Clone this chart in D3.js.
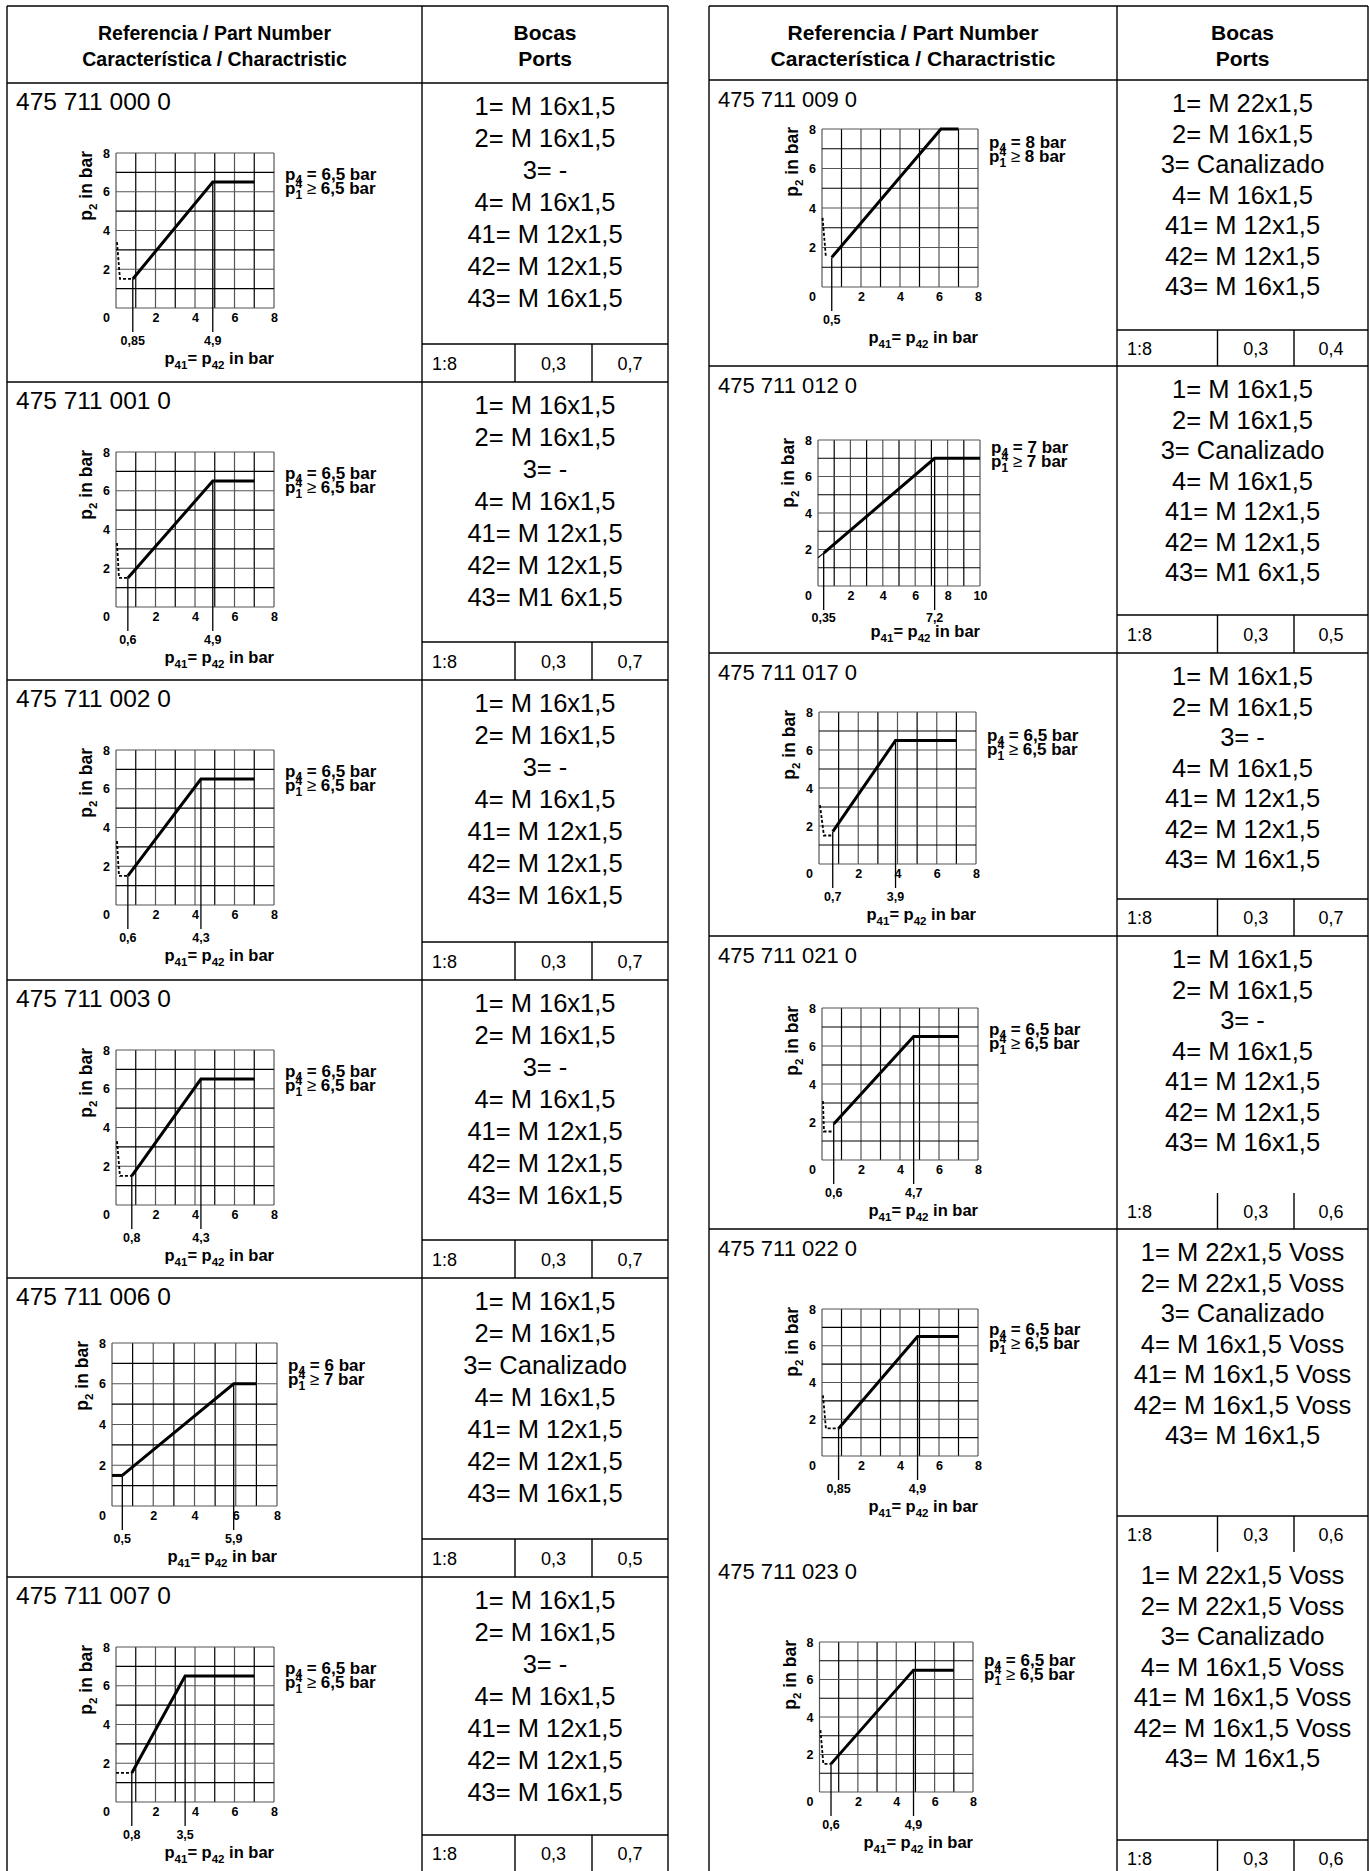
<!DOCTYPE html>
<html>
<head>
<meta charset="utf-8">
<script src="https://cdn.jsdelivr.net/npm/d3@7"></script>
<style>
  body { margin: 0; background: #fff; }
  text { font-family: "Liberation Sans", Arial, sans-serif; }
</style>
</head>
<body>
<script>
// ---- data ----
const parts = ['475 711 000 0', '475 711 001 0', '475 711 002 0', '475 711 003 0', '475 711 006 0', '475 711 007 0',
    '475 711 009 0', '475 711 012 0', '475 711 017 0', '475 711 021 0', '475 711 022 0', '475 711 023 0']

const xMax = [8, 8, 8, 8, 8, 8, 8, 10, 8, 8, 8, 8]
const startPoint = [[0.85, 1.5], [0.6, 1.5], [0.6, 1.5], [0.8, 1.5], [0.5, 1.5], [0.8, 1.5],
    [0.5, 1.5], [0.35, 1.8], [0.7, 1.7], [0.6, 1.9], [0.85, 1.5], [0.6, 1.5]]
const kneePoint = [[4.9, 6.5], [4.9, 6.5], [4.3, 6.5], [4.3, 6.5], [5.9, 6], [3.5, 6.5],
    [6.1, 8], [7.2, 7], [3.9, 6.5], [4.7, 6.5], [4.9, 6.5], [4.9, 6.5]]
const endX = [7, 7, 7, 7, 7, 7, 7, 10, 7, 7, 7, 7]

const dashedLead = [
    [[0.05, 3.4], [0.2, 1.5], [0.85, 1.5]],
    [[0.05, 3.3], [0.15, 1.5], [0.6, 1.5]],
    [[0.05, 3.3], [0.15, 1.5], [0.6, 1.5]],
    [[0.05, 3.3], [0.2, 1.5], [0.8, 1.5]],
    [],
    [[0, 1.5], [0.8, 1.5]],
    [[0.03, 3.5], [0.2, 1.5]],
    [],
    [[0.05, 3.1], [0.25, 1.5], [0.7, 1.5]],
    [[0.05, 3.1], [0.1, 1.5], [0.6, 1.5]],
    [[0.05, 3.3], [0.2, 1.5], [0.85, 1.5]],
    [[0.05, 3.3], [0.2, 1.5], [0.6, 1.5]]
]
const solidLead = [[], [], [], [], [[0, 1.5], [0.5, 1.5]], [], [], [[0, 1.55], [0.35, 1.8]], [], [], [], []]

const markerLabels = [['0,85', '4,9'], ['0,6', '4,9'], ['0,6', '4,3'], ['0,8', '4,3'], ['0,5', '5,9'], ['0,8', '3,5'],
    ['0,5'], ['0,35', '7,2'], ['0,7', '3,9'], ['0,6', '4,7'], ['0,85', '4,9'], ['0,6', '4,9']]

const p4Values = ['6,5', '6,5', '6,5', '6,5', '6', '6,5', '8', '7', '6,5', '6,5', '6,5', '6,5']
const p1Values = ['6,5', '6,5', '6,5', '6,5', '7', '6,5', '8', '7', '6,5', '6,5', '6,5', '6,5']

const portsA = ['1= M 16x1,5', '2= M 16x1,5', '3= -', '4= M 16x1,5', '41= M 12x1,5', '42= M 12x1,5', '43= M 16x1,5']
const portsB = ['1= M 16x1,5', '2= M 16x1,5', '3= -', '4= M 16x1,5', '41= M 12x1,5', '42= M 12x1,5', '43= M1 6x1,5']
const portsC = ['1= M 16x1,5', '2= M 16x1,5', '3= Canalizado', '4= M 16x1,5', '41= M 12x1,5', '42= M 12x1,5', '43= M 16x1,5']
const portsD = ['1= M 22x1,5', '2= M 16x1,5', '3= Canalizado', '4= M 16x1,5', '41= M 12x1,5', '42= M 12x1,5', '43= M 16x1,5']
const portsE = ['1= M 16x1,5', '2= M 16x1,5', '3= Canalizado', '4= M 16x1,5', '41= M 12x1,5', '42= M 12x1,5', '43= M1 6x1,5']
const portsF = ['1= M 22x1,5 Voss', '2= M 22x1,5 Voss', '3= Canalizado', '4= M 16x1,5 Voss', '41= M 16x1,5 Voss', '42= M 16x1,5 Voss', '43= M 16x1,5']
const portLists = [portsA, portsB, portsA, portsA, portsC, portsA, portsD, portsE, portsA, portsA, portsF, portsF]

const ratioA = '1:8'
const ratioB = '0,3'
const ratioC = ['0,7', '0,7', '0,7', '0,7', '0,5', '0,7', '0,4', '0,5', '0,7', '0,6', '0,6', '0,6']

const headerLeft = ['Referencia / Part Number', 'Característica / Charactristic']
const headerRight = ['Bocas', 'Ports']

// ---- layout (pixels) ----
const W = 1369, H = 1871
const FONT = '"Liberation Sans", Arial, sans-serif'
const tables = [
    { x0: 7, x1: 668, div: 422, sub: [515, 592], top: 6, head: 83, hsize: 19.5 },
    { x0: 709, x1: 1368, div: 1117, sub: [1217.5, 1294], top: 6, head: 80, hsize: 21 }
]
const rowTop = [83, 382, 680, 980, 1278, 1577, 80, 366, 653, 936, 1229, 1552]
const rowBottom = [382, 680, 980, 1278, 1577, 1880, 366, 653, 936, 1229, 1552, 1880]
const subTop = [344, 642, 942, 1240, 1539, 1835, 330, 615, 899, 1193, 1516, 1840]
const subLine = [1, 1, 1, 1, 1, 1, 1, 1, 1, 0, 1, 1]
const rowLine = [1, 1, 1, 1, 1, 0, 1, 1, 1, 1, 0, 0]
const chartBox = [
    { x: 116, y: 153, w: 158, h: 155 }, { x: 116, y: 452, w: 158, h: 155 },
    { x: 116, y: 750, w: 158, h: 155 }, { x: 116, y: 1050, w: 158, h: 155 },
    { x: 112, y: 1343, w: 165, h: 163 }, { x: 116, y: 1647, w: 158, h: 155 },
    { x: 822, y: 129, w: 156, h: 158 }, { x: 818, y: 440, w: 162, h: 146 },
    { x: 819, y: 712, w: 157, h: 152 }, { x: 822, y: 1008, w: 156, h: 152 },
    { x: 822, y: 1309, w: 156, h: 147 }, { x: 819.5, y: 1642, w: 153.5, h: 150 }
]
const legendDy = [27, 27, 27, 27, 28, 27, 19, 13, 29, 27, 26, 24]

const svg = d3.select('body').append('svg')
    .attr('width', W)
    .attr('height', H)
    .style('display', 'block')

// ---- table frames ----
const frame = svg.append('g')
    .attr('stroke', '#000')
    .attr('stroke-width', 1.4)

tables.forEach(t => {
    frame.append('line').attr('x1', t.x0).attr('x2', t.x1).attr('y1', t.top).attr('y2', t.top)
    frame.append('line').attr('x1', t.x0).attr('x2', t.x1).attr('y1', t.head).attr('y2', t.head)
    ;[t.x0, t.div, t.x1].forEach(xv => {
        frame.append('line').attr('x1', xv).attr('x2', xv).attr('y1', t.top).attr('y2', H + 10)
    })
})

function hdr(t, lines, cx, size) {
    lines.forEach((s, k) => {
        svg.append('text')
            .attr('x', cx)
            .attr('y', t.top + 34 + k * 26)
            .attr('text-anchor', 'middle')
            .attr('font-size', size)
            .attr('font-weight', 'bold')
            .text(s)
    })
}
tables.forEach(t => {
    hdr(t, headerLeft, (t.x0 + t.div) / 2, t.hsize)
    hdr(t, headerRight, (t.div + t.x1) / 2, 21)
})

// ---- rows ----
parts.forEach((p, i) => {
    const left = i < 6
    const t = tables[left ? 0 : 1]
    const top = rowTop[i]

    if (rowLine[i]) {
        frame.append('line').attr('x1', t.x0).attr('x2', t.x1)
            .attr('y1', rowBottom[i]).attr('y2', rowBottom[i])
    }

    // part number
    svg.append('text')
        .attr('x', t.x0 + 9)
        .attr('y', top + 27)
        .attr('font-size', left ? 24.5 : 22)
        .text(p)

    // ports list
    const gap = left ? 32 : 30.5
    svg.append('g').selectAll('text')
        .data(portLists[i])
        .enter().append('text')
        .attr('x', (t.div + t.x1) / 2)
        .attr('y', (d, k) => top + 32 + k * gap)
        .attr('text-anchor', 'middle')
        .attr('font-size', 25.5)
        .text(d => d)

    // ratio sub-cells
    const last = i === 5 || i === 11
    const bottom = last ? subTop[i] + 37 : rowBottom[i]
    if (subLine[i]) {
        frame.append('line').attr('x1', t.div).attr('x2', t.x1)
            .attr('y1', subTop[i]).attr('y2', subTop[i])
    }
    t.sub.forEach(xv => {
        frame.append('line').attr('x1', xv).attr('x2', xv)
            .attr('y1', subTop[i]).attr('y2', last ? H + 10 : rowBottom[i])
    })
    const cells = [t.div, t.sub[0], t.sub[1], t.x1]
    ;[ratioA, ratioB, ratioC[i]].forEach((s, k) => {
        svg.append('text')
            .attr('x', k === 0 ? cells[0] + 10 : (cells[k] + cells[k + 1]) / 2)
            .attr('y', (subTop[i] + bottom) / 2 + 6.5)
            .attr('text-anchor', k === 0 ? 'start' : 'middle')
            .attr('font-size', 18)
            .text(s)
    })

    drawChart(i)
})

function drawChart(i) {
    const b = chartBox[i]
    const g = svg.append('g')

    const x = d3.scaleLinear().domain([0, xMax[i]]).range([b.x, b.x + b.w])
    const y = d3.scaleLinear().domain([0, 8]).range([b.y + b.h, b.y])

    // grid
    g.append('g').selectAll('line')
        .data(d3.range(0, xMax[i] + 1))
        .enter().append('line')
        .attr('x1', d => x(d)).attr('x2', d => x(d))
        .attr('y1', y(0)).attr('y2', y(8))
        .attr('stroke', d => d % 2 ? '#000' : '#555')
        .attr('stroke-width', 1.2)
    g.append('g').selectAll('line')
        .data(d3.range(0, 9))
        .enter().append('line')
        .attr('x1', x(0)).attr('x2', x(xMax[i]))
        .attr('y1', d => y(d)).attr('y2', d => y(d))
        .attr('stroke', d => d % 2 ? '#000' : '#555')
        .attr('stroke-width', 1.2)

    // axes (labels only)
    const xAxis = d3.axisBottom(x)
        .tickValues(d3.range(2, xMax[i] + 1, 2))
        .tickSize(0).tickPadding(5)
        .tickFormat(d3.format('d'))
    g.append('g')
        .attr('transform', `translate(0,${y(0)})`)
        .call(xAxis)
        .call(a => a.select('.domain').remove())
        .attr('font-size', 12.5).attr('font-weight', 'bold').attr('font-family', FONT)

    const yAxis = d3.axisLeft(y)
        .tickValues([2, 4, 6, 8])
        .tickSize(0).tickPadding(6)
    g.append('g')
        .attr('transform', `translate(${x(0)},0)`)
        .call(yAxis)
        .call(a => a.select('.domain').remove())
        .attr('font-size', 12.5).attr('font-weight', 'bold').attr('font-family', FONT)

    g.append('text')
        .attr('x', x(0) - 9.5).attr('y', y(0) + 14)
        .attr('text-anchor', 'middle')
        .attr('font-size', 12.5).attr('font-weight', 'bold')
        .text('0')

    // markers
    const pts = [startPoint[i], kneePoint[i]]
    markerLabels[i].forEach((lab, k) => {
        const p = pts[k]
        g.append('line')
            .attr('x1', x(p[0])).attr('x2', x(p[0]))
            .attr('y1', y(p[1])).attr('y2', y(0) + 24)
            .attr('stroke', '#000').attr('stroke-width', 1.3)
        g.append('text')
            .attr('x', x(p[0])).attr('y', y(0) + (i === 7 ? 36 : 37))
            .attr('text-anchor', 'middle')
            .attr('font-size', 12.5).attr('font-weight', 'bold')
            .text(lab)
    })

    // characteristic line
    const line = d3.line().x(d => x(d[0])).y(d => y(d[1]))
    if (dashedLead[i].length) {
        g.append('path')
            .attr('d', line(dashedLead[i]))
            .attr('fill', 'none').attr('stroke', '#000')
            .attr('stroke-width', 1.8).attr('stroke-dasharray', '3,2')
    }
    if (solidLead[i].length) {
        g.append('path')
            .attr('d', line(solidLead[i]))
            .attr('fill', 'none').attr('stroke', '#000')
            .attr('stroke-width', i === 7 ? 1.2 : 3)
    }
    g.append('path')
        .attr('d', line([startPoint[i], kneePoint[i], [endX[i], kneePoint[i][1]]]))
        .attr('fill', 'none').attr('stroke', '#000')
        .attr('stroke-width', 3).attr('stroke-linejoin', 'miter')

    // axis titles
    const yt = g.append('text')
        .attr('transform', `translate(${x(0) - 24},${y(8) - 2}) rotate(-90)`)
        .attr('text-anchor', 'end')
        .attr('font-size', 17.5).attr('font-weight', 'bold')
    yt.append('tspan').text('p')
    yt.append('tspan').attr('dy', 5).attr('font-size', 11.5).text('2')
    yt.append('tspan').attr('dy', -5).text(' in bar')

    const xt = g.append('text')
        .attr('x', x(xMax[i])).attr('y', y(0) + (i === 7 ? 51 : 56))
        .attr('text-anchor', 'end')
        .attr('font-size', 16.5).attr('font-weight', 'bold')
    xt.append('tspan').text('p')
    xt.append('tspan').attr('dy', 5).attr('font-size', 11.5).text('41')
    xt.append('tspan').attr('dy', -5).text('= p')
    xt.append('tspan').attr('dy', 5).attr('font-size', 11.5).text('42')
    xt.append('tspan').attr('dy', -5).text(' in bar')

    // pressure legend
    const lx = x(xMax[i]) + 11
    const ly = y(8) + legendDy[i]
    const l1 = g.append('text').attr('x', lx).attr('y', ly)
        .attr('font-size', 17).attr('font-weight', 'bold')
    l1.append('tspan').text('p')
    l1.append('tspan').attr('dy', 4).attr('font-size', 12).text('4')
    l1.append('tspan').attr('dy', -4).text(' = ' + p4Values[i] + ' bar')

    const l2 = g.append('text').attr('x', lx).attr('y', ly + 14)
        .attr('font-size', 17).attr('font-weight', 'bold')
    l2.append('tspan').text('p')
    l2.append('tspan').attr('dy', -6).attr('font-size', 12).text('4')
    l2.append('tspan').attr('dx', -6.7).attr('dy', 11).attr('font-size', 12).text('1')
    l2.append('tspan').attr('dy', -5).attr('font-weight', 'normal').text(' ≥')
    l2.append('tspan').text(' ' + p1Values[i] + ' bar')
}
</script>
</body>
</html>
